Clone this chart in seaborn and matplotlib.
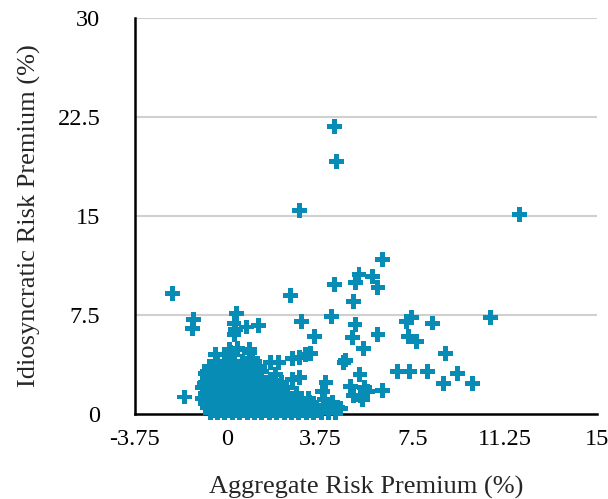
import numpy as np
import pandas as pd
import matplotlib
matplotlib.use("Agg")
import matplotlib.pyplot as plt
import seaborn as sns

# scattered points (aggregate %, idiosyncratic %)
sparse_x = [4.36, 4.44, 2.94, 11.86, -2.24,
            -1.36, -1.43, 0.37, 0.27, 0.33, 0.27, 0.77, 1.26, 2.55, 3.02,
            6.28, 5.34, 5.20, 5.87, 6.11, 4.36, 5.12, 4.24,
            3.53, 5.18, 5.06, 6.11, 5.52, 7.26, 7.46, 7.34, 7.66,
            10.68, 8.32, 8.85, 8.11, 8.76, 9.34, 9.95, 6.89, 7.38,
            2.65, 2.94, 3.18, 3.38, 4.73, 4.81, 5.38,
            5.00, 5.58, 5.63, 6.28, 1.75, 2.08, 2.94, 2.65, 4.00, 3.87,
            5.10, 5.40, 5.70, 5.50, 4.48, 4.60, 4.28, 3.95, 3.34, 3.60,
            -1.75, -0.49, 0.00, 0.12, 0.41, 0.90, 1.02, 0.08, 0.41, 0.90,
            -0.90, -0.94, -0.73, 1.75, 1.96]
sparse_y = [21.8, 19.1, 15.45, 15.15, 9.17,
            7.2, 6.5, 7.65, 6.9, 6.4, 6.0, 6.6, 6.7, 9.0, 7.0,
            11.7, 10.6, 10.0, 10.4, 9.6, 9.85, 8.5, 7.4,
            5.9, 6.8, 5.8, 6.0, 5.0, 7.0, 7.3, 5.9, 5.5,
            7.3, 6.9, 4.6, 3.2, 2.35, 3.1, 2.35, 3.2, 3.2,
            4.2, 4.3, 4.5, 4.6, 3.9, 4.1, 3.0,
            2.1, 2.0, 1.7, 1.8, 3.9, 3.9, 2.8, 2.6, 2.4, 1.7,
            1.4, 1.4, 1.7, 1.1, 0.5, 0.45, 0.9, 1.1, 0.9, 0.5,
            1.3, 4.5, 4.5, 4.7, 5.0, 4.7, 4.2, 4.9, 4.9, 4.9,
            3.1, 2.35, 3.6, 2.6, 3.0]

# dense cluster near the origin, read row by row
blob_rows = {
    0.1: [-0.7, -0.4, -0.1, 0.2, 0.5, 0.8, 1.1, 1.4, 1.7, 2.0, 2.3, 2.6, 2.9, 3.2, 3.5, 3.8, 4.1, 4.4],
    0.3: [-0.55, -0.25, 0.05, 0.35, 0.65, 0.95, 1.25, 1.55, 1.85, 2.15, 2.45, 2.75, 3.05, 3.35, 3.7],
    0.5: [-0.8, -0.5, -0.2, 0.1, 0.4, 0.7, 1.0, 1.3, 1.6, 1.9, 2.2, 2.5, 2.8, 3.1, 3.4, 3.9],
    0.8: [-0.9, -0.6, -0.3, 0.0, 0.3, 0.6, 0.9, 1.2, 1.5, 1.8, 2.1, 2.4, 2.7, 3.0],
    1.0: [-0.75, -0.45, -0.15, 0.15, 0.45, 0.75, 1.05, 1.35, 1.65, 1.95, 2.25, 2.55, 2.85],
    1.2: [-1.0, -0.7, -0.4, -0.1, 0.2, 0.5, 0.8, 1.1, 1.4, 1.7, 2.0, 2.3, 2.6, 3.0, 3.3],
    1.4: [-0.85, -0.55, -0.25, 0.05, 0.35, 0.65, 0.95, 1.25, 1.55, 1.85, 2.15, 2.45],
    1.6: [-0.9, -0.6, -0.3, 0.0, 0.3, 0.6, 0.9, 1.2, 1.5, 1.8, 2.1, 2.4, 2.8],
    1.8: [-0.75, -0.45, -0.15, 0.15, 0.45, 0.75, 1.05, 1.35, 1.65, 1.95, 2.25],
    2.0: [-1.0, -0.7, -0.4, -0.1, 0.2, 0.5, 0.8, 1.1, 1.4, 1.7, 2.0, 2.4],
    2.2: [-0.85, -0.55, -0.25, 0.05, 0.35, 0.65, 0.95, 1.25, 1.55, 2.05],
    2.4: [-0.9, -0.6, -0.3, 0.0, 0.3, 0.6, 0.9, 1.2, 1.5, 1.9, 2.2],
    2.6: [-0.65, -0.35, -0.05, 0.25, 0.55, 0.85, 1.15],
    2.8: [-0.8, -0.5, -0.2, 0.1, 0.4, 0.7, 1.0, 1.4],
    3.0: [-0.65, -0.35, -0.05, 0.25, 0.55, 0.85, 1.2],
    3.2: [-0.8, -0.5, -0.2, 0.1, 0.4, 0.7, 1.0, 1.4],
    3.4: [-0.45, -0.15, 0.15, 0.45, 0.75, 1.1],
    3.6: [-0.6, -0.3, 0.0, 0.3, 0.6, 0.9, 1.3],
    4.0: [-0.4, -0.1, 0.3, 0.6, 0.9],
}

xticks = [-3.75, 0, 3.75, 7.5, 11.25, 15]
xtick_labels = ["-3.75", "0", "3.75", "7.5", "11.25", "15"]
yticks = [0, 7.5, 15, 22.5, 30]
ytick_labels = ["0", "7.5", "15", "22.5", "30"]

blob_x, blob_y = [], []
for yv, xs in blob_rows.items():
    blob_x += xs
    blob_y += [yv] * len(xs)

df = pd.DataFrame({"agg": sparse_x + blob_x, "idio": sparse_y + blob_y})

sns.set_style("white")
plt.rcParams["font.family"] = ["Liberation Serif", "DejaVu Serif"]

fig = plt.figure(figsize=(6.08, 4.99), dpi=100)
ax = fig.add_axes([0.222, 0.170, 0.760, 0.794])

sns.scatterplot(data=df, x="agg", y="idio", ax=ax, marker="P", s=115,
                color="#078db5", edgecolor="none", linewidth=0, zorder=3, clip_on=False)

ax.set_xlim(-3.75, 15)
ax.set_ylim(0, 30)
ax.set_xticks(xticks)
ax.set_xticklabels(xtick_labels)
ax.set_yticks(yticks)
ax.set_yticklabels(ytick_labels)
ax.tick_params(axis="both", length=0, labelsize=17.5, colors="black")
ax.tick_params(axis="y", pad=25)
ax.tick_params(axis="x", pad=11)
for yv in yticks[1:]:
    ax.axhline(yv, color="#d0d0d0", lw=1.5, zorder=1)

for side in ["top", "right"]:
    ax.spines[side].set_visible(False)
for side in ["left", "bottom"]:
    ax.spines[side].set_color("black")
    ax.spines[side].set_linewidth(1.8)

ax.set_xlabel("Aggregate Risk Premium (%)", fontsize=19, labelpad=18)
ax.set_ylabel("Idiosyncratic Risk Premium (%)", fontsize=19, labelpad=12)

fig.savefig("out.png", dpi=100)
